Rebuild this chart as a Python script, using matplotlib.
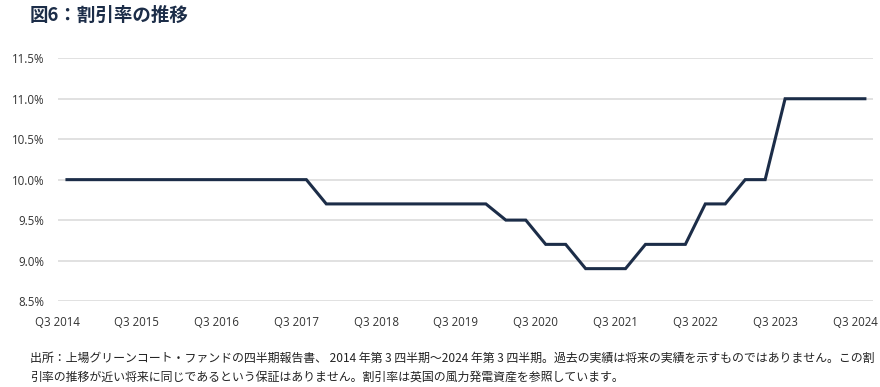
import matplotlib
matplotlib.use("Agg")
import matplotlib.pyplot as plt
import matplotlib.transforms as mtransforms
from matplotlib.ticker import FuncFormatter

plt.rcParams['font.family'] = ['Noto Sans CJK JP', 'DejaVu Sans']

# Data: discount rate (%) per quarter, Q3 2014 .. Q3 2024
quarters = [f"Q{((2 + i) % 4) + 1} {2014 + (2 + i) // 4}" for i in range(41)]
rates = [10.0] * 13 + [9.7] * 9 + [9.5] * 2 + [9.2] * 2 + [8.9] * 3 + [9.2] * 3 + [9.7] * 2 + [10.0] * 2 + [11.0] * 5
year_labels = ["Q3 2014", "Q3 2015", "Q3 2016", "Q3 2017", "Q3 2018", "Q3 2019",
               "Q3 2020", "Q3 2021", "Q3 2022", "Q3 2023", "Q3 2024"]
y_ticks = [8.5, 9.0, 9.5, 10.0, 10.5, 11.0, 11.5]

title = "図6：割引率の推移"
note1 = "出所：上場グリーンコート・ファンドの四半期報告書、 2014 年第 3 四半期～2024 年第 3 四半期。過去の実績は将来の実績を示すものではありません。この割"
note2 = "引率の推移が近い将来に同じであるという保証はありません。割引率は英国の風力発電資産を参照しています。"

navy = "#1c2d48"

fig = plt.figure(figsize=(8.8, 3.87), dpi=100)
ax = fig.add_axes([0.0659, 0.2222, 0.926, 0.6272])

x = list(range(len(rates)))
ax.plot(x, rates, color=navy, linewidth=2.2, solid_joinstyle='miter', zorder=3)

ax.set_ylim(8.5, 11.5)
ax.set_yticks(y_ticks)
ax.yaxis.set_major_formatter(FuncFormatter(lambda v, p: f"{v:.1f}%"))
ax.set_xlim(-0.45, 40.4)
tick_pos = [quarters.index(l) for l in year_labels]
ax.set_xticks(tick_pos)
ax.set_xticklabels(year_labels)

ax.grid(axis='y', color="#dcdcdc", linewidth=1.2, zorder=0)
ax.grid(axis='x', visible=False)
for s in ax.spines.values():
    s.set_visible(False)
ax.tick_params(axis='both', length=0, labelsize=8.3, labelcolor="#333333")
ax.tick_params(axis='y', pad=10)
ax.tick_params(axis='x', pad=11)
for lbl in ax.get_xticklabels() + ax.get_yticklabels():
    lbl.set_fontfamily(['Open Sans', 'DejaVu Sans'])

offset = mtransforms.ScaledTranslation(-10 / 100, 0, fig.dpi_scale_trans)
for lbl in ax.get_xticklabels():
    lbl.set_transform(lbl.get_transform() + offset)

fig.text(30 / 880, 1 - 15 / 387, title, fontsize=13.3, fontweight='bold', color=navy,
         ha='left', va='center')
fig.text(30 / 880, 1 - 358 / 387, note1, fontsize=8.6, color="#222222", ha='left', va='center')
fig.text(30 / 880, 1 - 377 / 387, note2, fontsize=8.6, color="#222222", ha='left', va='center')

fig.savefig("out.png", dpi=100)
